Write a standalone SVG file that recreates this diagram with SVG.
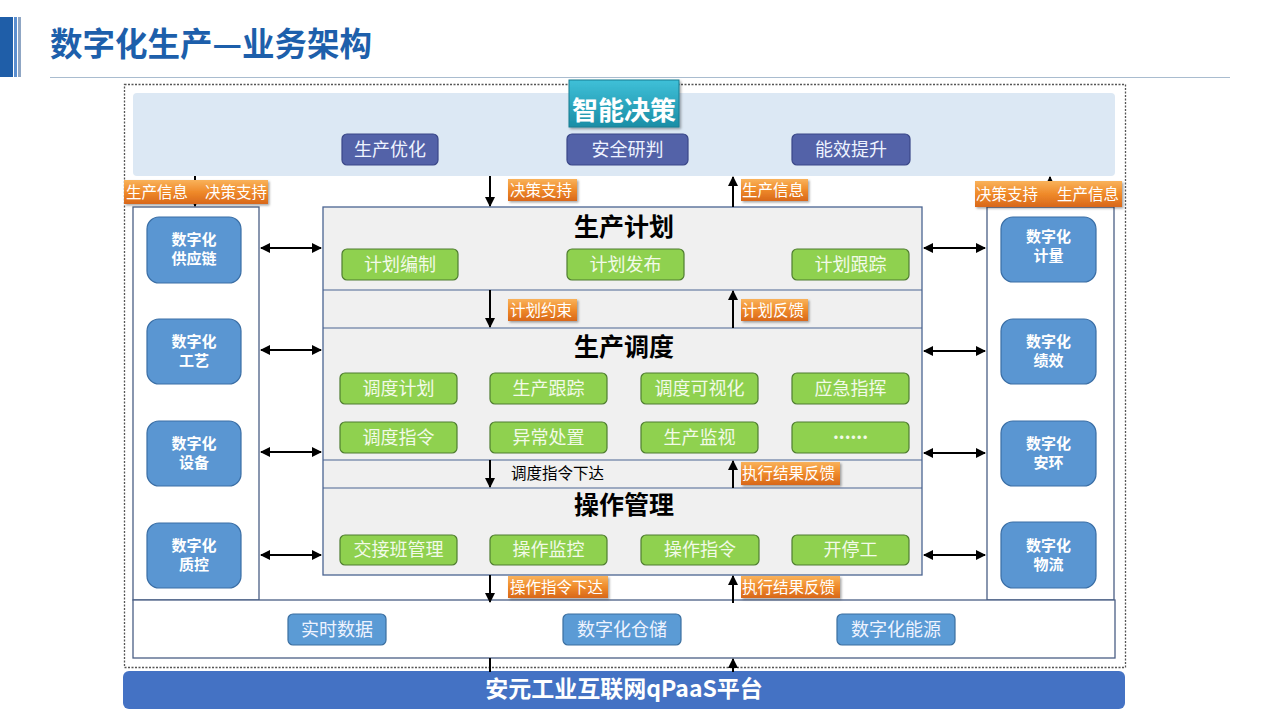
<svg xmlns="http://www.w3.org/2000/svg" width="1280" height="720" viewBox="0 0 1280 720">
<defs>
<linearGradient id="og" x1="0" y1="0" x2="0" y2="1"><stop offset="0" stop-color="#f9b25a"/><stop offset="0.5" stop-color="#ef8a2a"/><stop offset="1" stop-color="#d8671a"/></linearGradient>
<linearGradient id="tg" x1="0" y1="0" x2="0" y2="1"><stop offset="0" stop-color="#3fc0d8"/><stop offset="1" stop-color="#1b8ea6"/></linearGradient>
<filter id="sh" x="-10%" y="-20%" width="130%" height="150%"><feDropShadow dx="1.5" dy="1.5" stdDeviation="1" flood-color="#000" flood-opacity="0.35"/></filter>
<marker id="ah" viewBox="0 0 10 10" refX="9" refY="5" markerWidth="5" markerHeight="5" orient="auto-start-reverse"><path d="M0,0 L10,5 L0,10 z" fill="#000"/></marker>
</defs>
<style>
text{font-family:"Noto Sans CJK SC","Liberation Sans",sans-serif}
.purple rect{fill:#5362a8;stroke:#3a4788;stroke-width:1.2}
.purple text,.green text,.lb text{fill:#eef3ff;font-size:18px;text-anchor:middle}
.green rect{fill:#8fd14f;stroke:#4f7d30;stroke-width:1.2}
.green text{fill:#f2fae8}
.node rect{fill:#5a96d2;stroke:#3a6ea5;stroke-width:1.2}
.node text{fill:#fff;font-size:15px;font-weight:bold;text-anchor:middle}
.lb rect{fill:#5b9bd5;stroke:#3b6fa0;stroke-width:1.2}
.ol rect{fill:url(#og);filter:url(#sh)}
.ol text{fill:#fff;font-size:15.5px}
.sec{font-size:25px;font-weight:bold;fill:#000;text-anchor:middle}
.ln{stroke:#000;stroke-width:2;fill:none}
</style>
<!-- title -->
<g id="title">
<rect x="0" y="17" width="13" height="60" fill="#1f5ea8"/>
<rect x="14" y="17" width="3" height="60" fill="#5b8fd0"/>
<rect x="18" y="17" width="3" height="60" fill="#8fa6c4"/>
<text x="50" y="56" font-size="32.5" font-weight="bold" fill="#1d5fab">数字化生产—业务架构</text>
<line x1="50" y1="77.5" x2="1230" y2="77.5" stroke="#a9bccf" stroke-width="1.2"/>
</g>
<rect x="124.5" y="84.5" width="1001" height="583" fill="none" stroke="#555" stroke-width="1.3" stroke-dasharray="2,1.5"/>
<!-- top panel -->
<g id="decision">
<rect x="133" y="93" width="982" height="83" rx="4" fill="#dce8f4"/>
<rect x="569" y="80" width="110" height="47" fill="url(#tg)" stroke="#1a7d92" filter="url(#sh)"/>
<text x="624" y="120" font-size="26" font-weight="bold" fill="#fff" text-anchor="middle">智能决策</text>
</g>
<g id="opt" class="purple"><rect x="342" y="134" width="96" height="31" rx="5"/><text x="390" y="156">生产优化</text></g>
<g id="safe" class="purple"><rect x="567" y="134" width="121" height="31" rx="5"/><text x="627.5" y="156">安全研判</text></g>
<g id="energy" class="purple"><rect x="792" y="134" width="118" height="31" rx="5"/><text x="851" y="156">能效提升</text></g>
<!-- side columns -->
<g id="leftcol"><rect x="133" y="207" width="126" height="393" fill="#fff" stroke="#4a5f85" stroke-width="1.3"/></g>
<g id="rightcol"><rect x="987" y="207" width="127" height="393" fill="#fff" stroke="#4a5f85" stroke-width="1.3"/></g>
<g id="n-supply" class="node"><rect x="147" y="217" width="94" height="66" rx="12"/><text x="194" y="245">数字化</text><text x="194" y="264">供应链</text></g>
<g id="n-craft" class="node"><rect x="147" y="319" width="94" height="65" rx="12"/><text x="194" y="347">数字化</text><text x="194" y="366">工艺</text></g>
<g id="n-equip" class="node"><rect x="147" y="421" width="94" height="65" rx="12"/><text x="194" y="449">数字化</text><text x="194" y="468">设备</text></g>
<g id="n-qc" class="node"><rect x="147" y="523" width="94" height="65" rx="12"/><text x="194" y="551">数字化</text><text x="194" y="570">质控</text></g>
<g id="n-meter" class="node"><rect x="1001" y="217" width="95" height="65" rx="12"/><text x="1048.5" y="242">数字化</text><text x="1048.5" y="261">计量</text></g>
<g id="n-perf" class="node"><rect x="1001" y="319" width="95" height="65" rx="12"/><text x="1048.5" y="347">数字化</text><text x="1048.5" y="366">绩效</text></g>
<g id="n-env" class="node"><rect x="1001" y="421" width="95" height="65" rx="12"/><text x="1048.5" y="449">数字化</text><text x="1048.5" y="468">安环</text></g>
<g id="n-logi" class="node"><rect x="1001" y="522" width="95" height="66" rx="12"/><text x="1048.5" y="551">数字化</text><text x="1048.5" y="570">物流</text></g>
<!-- center -->
<g id="center">
<rect x="323" y="207" width="599" height="368" fill="#f0f0f0" stroke="#4a6491" stroke-width="1.3"/>
<line x1="323" y1="290" x2="922" y2="290" stroke="#4a6491" stroke-width="1.2"/>
<line x1="323" y1="328" x2="922" y2="328" stroke="#4a6491" stroke-width="1.2"/>
<line x1="323" y1="460" x2="922" y2="460" stroke="#4a6491" stroke-width="1.2"/>
<line x1="323" y1="488" x2="922" y2="488" stroke="#4a6491" stroke-width="1.2"/>
<text class="sec" x="624" y="236">生产计划</text>
<text class="sec" x="624" y="356">生产调度</text>
<text class="sec" x="624" y="514">操作管理</text>
</g>
<g id="p1" class="green"><rect x="342" y="249" width="116" height="31" rx="5"/><text x="400" y="271">计划编制</text></g>
<g id="p2" class="green"><rect x="567" y="249" width="117" height="31" rx="5"/><text x="625.5" y="271">计划发布</text></g>
<g id="p3" class="green"><rect x="792" y="249" width="117" height="31" rx="5"/><text x="850.5" y="271">计划跟踪</text></g>
<g id="d1" class="green"><rect x="340" y="373" width="117" height="31" rx="5"/><text x="398.5" y="395">调度计划</text></g>
<g id="d2" class="green"><rect x="490" y="373" width="117" height="31" rx="5"/><text x="548.5" y="395">生产跟踪</text></g>
<g id="d3" class="green"><rect x="641" y="373" width="117" height="31" rx="5"/><text x="699.5" y="395">调度可视化</text></g>
<g id="d4" class="green"><rect x="792" y="373" width="117" height="31" rx="5"/><text x="850.5" y="395">应急指挥</text></g>
<g id="d5" class="green"><rect x="340" y="422" width="117" height="31" rx="5"/><text x="398.5" y="444">调度指令</text></g>
<g id="d6" class="green"><rect x="490" y="422" width="117" height="31" rx="5"/><text x="548.5" y="444">异常处置</text></g>
<g id="d7" class="green"><rect x="641" y="422" width="117" height="31" rx="5"/><text x="699.5" y="444">生产监视</text></g>
<g id="d8" class="green"><rect x="792" y="422" width="117" height="31" rx="5"/><text x="850.5" y="439" font-family="Liberation Sans,sans-serif" font-size="14" font-weight="bold">......</text></g>
<g id="o1" class="green"><rect x="340" y="535" width="117" height="30" rx="5"/><text x="398.5" y="556">交接班管理</text></g>
<g id="o2" class="green"><rect x="490" y="535" width="117" height="30" rx="5"/><text x="548.5" y="556">操作监控</text></g>
<g id="o3" class="green"><rect x="641" y="535" width="118" height="30" rx="5"/><text x="700" y="556">操作指令</text></g>
<g id="o4" class="green"><rect x="792" y="535" width="117" height="30" rx="5"/><text x="850.5" y="556">开停工</text></g>
<!-- bottom data -->
<g id="data"><rect x="133" y="600" width="982" height="58" fill="#fff" stroke="#4a5f85" stroke-width="1.3"/></g>
<g id="rt" class="lb"><rect x="288" y="614" width="98" height="31" rx="5"/><text x="337" y="636">实时数据</text></g>
<g id="wh" class="lb"><rect x="563" y="614" width="118" height="31" rx="5"/><text x="622" y="636">数字化仓储</text></g>
<g id="en" class="lb"><rect x="837" y="614" width="118" height="31" rx="5"/><text x="896" y="636">数字化能源</text></g>
<g id="platform"><rect x="123" y="671" width="1002" height="38" rx="6" fill="#4472c4"/><text x="624" y="697" font-size="23" font-weight="bold" fill="#fff" text-anchor="middle">安元工业互联网qPaaS平台</text></g>
<!-- connectors -->
<g id="connectors">
<line class="ln" x1="195" y1="176" x2="195" y2="206" marker-end="url(#ah)"/>
<line class="ln" x1="1050" y1="207" x2="1050" y2="177" marker-end="url(#ah)"/>
<line class="ln" x1="490" y1="176" x2="490" y2="206" marker-end="url(#ah)"/>
<line class="ln" x1="733" y1="207" x2="733" y2="177" marker-end="url(#ah)"/>
<line class="ln" x1="490" y1="290" x2="490" y2="327" marker-end="url(#ah)"/>
<line class="ln" x1="733" y1="328" x2="733" y2="291" marker-end="url(#ah)"/>
<line class="ln" x1="490" y1="460" x2="490" y2="487" marker-end="url(#ah)"/>
<line class="ln" x1="733" y1="488" x2="733" y2="461" marker-end="url(#ah)"/>
<line class="ln" x1="490" y1="575" x2="490" y2="602" marker-end="url(#ah)"/>
<line class="ln" x1="733" y1="603" x2="733" y2="576" marker-end="url(#ah)"/>
<line class="ln" x1="490" y1="658" x2="490" y2="672"/>
<line class="ln" x1="733" y1="672" x2="733" y2="659" marker-end="url(#ah)"/>
<line class="ln" x1="261" y1="248" x2="321" y2="248" marker-start="url(#ah)" marker-end="url(#ah)"/>
<line class="ln" x1="261" y1="350" x2="321" y2="350" marker-start="url(#ah)" marker-end="url(#ah)"/>
<line class="ln" x1="261" y1="452" x2="321" y2="452" marker-start="url(#ah)" marker-end="url(#ah)"/>
<line class="ln" x1="261" y1="555" x2="321" y2="555" marker-start="url(#ah)" marker-end="url(#ah)"/>
<line class="ln" x1="924" y1="248" x2="985" y2="248" marker-start="url(#ah)" marker-end="url(#ah)"/>
<line class="ln" x1="924" y1="351" x2="985" y2="351" marker-start="url(#ah)" marker-end="url(#ah)"/>
<line class="ln" x1="924" y1="453" x2="985" y2="453" marker-start="url(#ah)" marker-end="url(#ah)"/>
<line class="ln" x1="924" y1="555" x2="985" y2="555" marker-start="url(#ah)" marker-end="url(#ah)"/>
<text x="511" y="479" font-size="15.5" fill="#000">调度指令下达</text>
</g>
<!-- orange labels -->
<g id="lbl-l" class="ol"><rect x="124" y="180" width="144" height="24"/><text x="126" y="198">生产信息</text><text x="205" y="198">决策支持</text></g>
<g id="lbl-r" class="ol"><rect x="975" y="181" width="147" height="26"/><text x="976" y="200">决策支持</text><text x="1057" y="200">生产信息</text></g>
<g id="lbl1" class="ol"><rect x="508" y="179" width="69" height="22"/><text x="510" y="196">决策支持</text></g>
<g id="lbl2" class="ol"><rect x="741" y="179" width="67" height="22"/><text x="742" y="196">生产信息</text></g>
<g id="lbl3" class="ol"><rect x="508" y="299" width="69" height="22"/><text x="510" y="316">计划约束</text></g>
<g id="lbl4" class="ol"><rect x="741" y="299" width="67" height="22"/><text x="742" y="316">计划反馈</text></g>
<g id="lbl5" class="ol"><rect x="741" y="462" width="99" height="23"/><text x="742" y="479">执行结果反馈</text></g>
<g id="lbl6" class="ol"><rect x="508" y="576" width="100" height="22"/><text x="510" y="593">操作指令下达</text></g>
<g id="lbl7" class="ol"><rect x="741" y="576" width="99" height="22"/><text x="742" y="593">执行结果反馈</text></g>
</svg>
